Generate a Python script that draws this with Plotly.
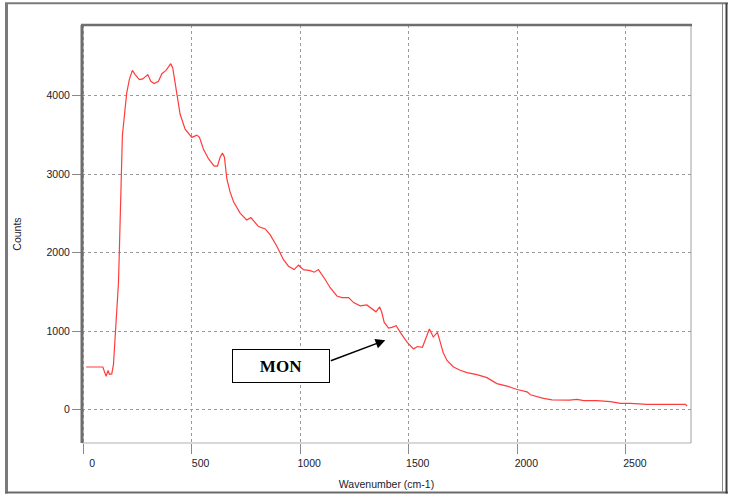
import plotly.graph_objects as go

wavenumber = [14, 50, 91, 106, 115, 121, 132, 140, 147, 155, 163, 167, 171, 175, 178, 181, 190, 201, 213,
              227, 240, 259, 275, 298, 312, 327, 347, 363, 382, 404, 413, 432, 447, 470, 501, 524, 536,
              554, 578, 604, 619, 631, 642, 651, 662, 677, 693, 724, 754, 773, 788, 808, 839, 862, 893,
              923, 946, 972, 992, 1015, 1046, 1065, 1084, 1092, 1115, 1138, 1169, 1192, 1223, 1246, 1276,
              1307, 1326, 1349, 1366, 1376, 1387, 1407, 1422, 1442, 1461, 1492, 1522, 1540, 1563, 1581,
              1595, 1613, 1632, 1645, 1658, 1676, 1706, 1737, 1768, 1814, 1860, 1906, 1953, 1999, 2045,
              2060, 2091, 2121, 2160, 2198, 2240, 2275, 2306, 2367, 2429, 2475, 2521, 2598, 2674, 2720,
              2774, 2782]
counts = [543, 543, 543, 425, 500, 450, 455, 577, 880, 1259, 1616, 2016, 2395, 2774, 3000, 3489, 3741, 4036, 4205,
          4322, 4268, 4205, 4213, 4268, 4183, 4154, 4183, 4280, 4322, 4407, 4352, 4036, 3763, 3573, 3468, 3497, 3468,
          3321, 3194, 3102, 3102, 3215, 3270, 3215, 2942, 2774, 2648, 2500, 2416, 2446, 2403, 2332, 2302, 2226, 2079,
          1910, 1827, 1784, 1840, 1784, 1771, 1751, 1784, 1755, 1658, 1553, 1448, 1427, 1427, 1364, 1322,
          1334, 1292, 1246, 1309, 1237, 1111, 1039, 1048, 1069, 985, 860, 774, 804, 795, 922,
          1027, 925, 985, 860, 732, 627, 543, 501, 471, 446, 408, 332, 299, 256, 227,
          190, 164, 143, 125, 122, 120, 130, 114, 114, 101, 80, 80, 67, 67, 59,
          67, 47]

x_ticks = [0, 500, 1000, 1500, 2000, 2500]
y_ticks = [0, 1000, 2000, 3000, 4000]
annotation_label = "MON"
annotation_target = (1392, 884)
annotation_box_center = (910, 556)

W, H = 730, 501
L, R, T, B = 82, 691, 25, 447


def px(x):
    return (x - L) / (R - L)


def py(y):
    return (B - y) / (B - T)


fig = go.Figure()
fig.add_trace(go.Scatter(x=wavenumber, y=counts, mode="lines",
                         line=dict(color="#ff3c3c", width=1.2), hoverinfo="skip"))

tickfont = dict(family="Liberation Sans, Arial, sans-serif", size=10.5, color="#1a1a2e")

fig.update_layout(
    width=W, height=H,
    margin=dict(l=L, r=W - R, t=T, b=H - B),
    paper_bgcolor="white", plot_bgcolor="white",
    showlegend=False,
    xaxis=dict(range=[-5, 2800], tickvals=x_ticks, ticktext=[str(v) for v in x_ticks],
               showgrid=True, gridcolor="#9a9a9a", griddash="3px,3px", gridwidth=1,
               zeroline=False, showline=False,
               ticks="outside", ticklen=10, tickcolor="#8a8a8a", tickwidth=1,
               tickfont=tickfont, ticklabelshift=9,
               title=dict(text="Wavenumber (cm-1)", font=tickfont, standoff=13)),
    yaxis=dict(range=[-425, 4900], tickvals=y_ticks, ticktext=[str(v) for v in y_ticks],
               showgrid=True, gridcolor="#9a9a9a", griddash="3px,3px", gridwidth=1,
               zeroline=False, showline=False,
               ticks="outside", ticklen=9, tickcolor="#8a8a8a", tickwidth=1,
               tickfont=tickfont,
               title=dict(text="Counts", font=tickfont, standoff=22)),
)

shapes = []
# plot frame
shapes.append(dict(type="line", xref="paper", yref="paper", x0=px(L), x1=px(R), y0=py(B), y1=py(B),
                   line=dict(color="#b0b0b0", width=1)))
shapes.append(dict(type="line", xref="paper", yref="paper", x0=px(R), x1=px(R), y0=py(B), y1=py(T),
                   line=dict(color="#a0a0a0", width=1)))
shapes.append(dict(type="line", xref="paper", yref="paper", x0=px(L - 1), x1=px(R + 1), y0=py(T), y1=py(T),
                   line=dict(color="#6e6e6e", width=2.5)))
shapes.append(dict(type="line", xref="paper", yref="paper", x0=px(L), x1=px(L), y0=py(B), y1=py(T),
                   line=dict(color="#6e6e6e", width=3)))
# outer frame
shapes.append(dict(type="line", xref="paper", yref="paper", x0=px(5), x1=px(728), y0=py(3), y1=py(3),
                   line=dict(color="#7a7a7a", width=2)))
shapes.append(dict(type="line", xref="paper", yref="paper", x0=px(6.5), x1=px(6.5), y0=py(3), y1=py(498),
                   line=dict(color="#7a7a7a", width=3)))
shapes.append(dict(type="line", xref="paper", yref="paper", x0=px(5), x1=px(728), y0=py(497), y1=py(497),
                   line=dict(color="#6a6a6a", width=2)))
shapes.append(dict(type="line", xref="paper", yref="paper", x0=px(722.5), x1=px(722.5), y0=py(3), y1=py(497),
                   line=dict(color="#8a8a8a", width=1)))
shapes.append(dict(type="line", xref="paper", yref="paper", x0=px(726.5), x1=px(726.5), y0=py(3), y1=py(498),
                   line=dict(color="#404040", width=2)))
fig.update_layout(shapes=shapes)

fig.add_annotation(x=annotation_target[0], y=annotation_target[1], xref="x", yref="y",
                   text="", showarrow=True, ax=-56, ay=21,
                   arrowhead=2, arrowsize=1.3, arrowwidth=1.5, arrowcolor="black", standoff=0)
fig.add_annotation(x=annotation_box_center[0], y=annotation_box_center[1], xref="x", yref="y",
                   text="<b>" + annotation_label + "</b>", showarrow=False,
                   font=dict(family="Liberation Serif, Times New Roman, serif", size=17, color="black"),
                   bgcolor="white", bordercolor="black", borderwidth=1, borderpad=0,
                   width=96, height=32)

fig.write_html("out.html", config={"displayModeBar": False},
               post_script="document.body.style.margin='0';document.body.style.overflow='hidden';")
